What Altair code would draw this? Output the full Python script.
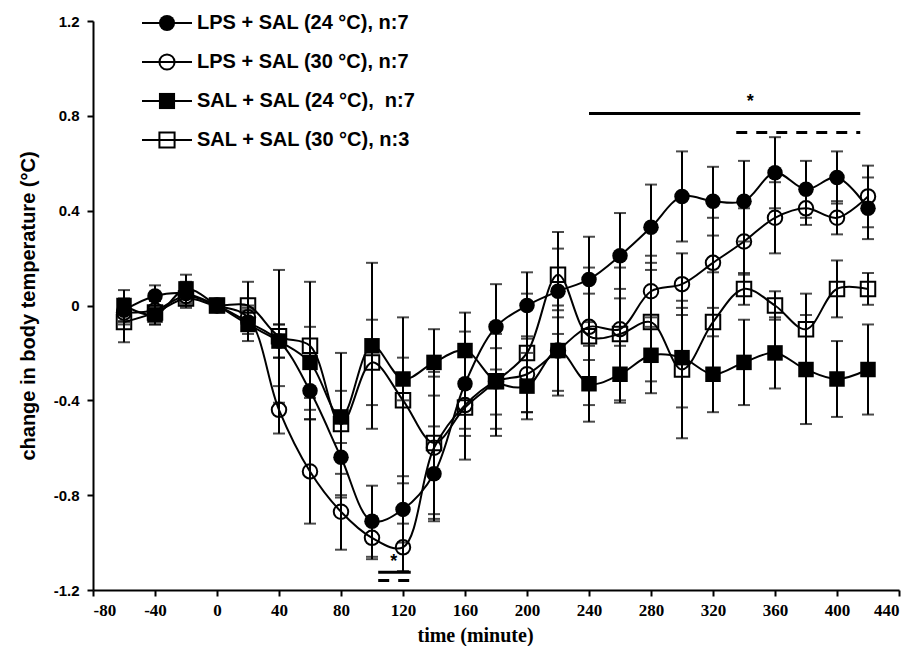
import altair as alt
import pandas as pd

times = [-60, -40, -20, 0, 20, 40, 60, 80, 100, 120, 140, 160, 180, 200,
         220, 240, 260, 280, 300, 320, 340, 360, 380, 400, 420]

names = ["LPS + SAL (24 °C), n:7", "LPS + SAL (30 °C), n:7",
         "SAL + SAL (24 °C),\u00a0 n:7", "SAL + SAL (30 °C), n:3"]

lps24 = [-0.02, 0.04, 0.05, 0.0, -0.07, -0.15, -0.36, -0.64, -0.91, -0.86, -0.71, -0.33, -0.09,
         0.00, 0.06, 0.11, 0.21, 0.33, 0.46, 0.44, 0.44, 0.56, 0.49, 0.54, 0.41]
lps24_se = [0.05, 0.045, 0.05, 0.0, 0.05, 0.07, 0.12, 0.17, 0.15, 0.14, 0.20, 0.22, 0.18,
            0.14, 0.18, 0.18, 0.18, 0.18, 0.19, 0.145, 0.17, 0.15, 0.12, 0.11, 0.13]

lps30 = [-0.03, -0.02, 0.04, 0.0, -0.05, -0.44, -0.70, -0.87, -0.98, -1.02, -0.60, -0.42, -0.32,
         -0.29, -0.19, -0.09, -0.10, 0.06, 0.09, 0.18, 0.27, 0.37, 0.41, 0.37, 0.46]
lps30_se = [0.05, 0.04, 0.04, 0.0, 0.05, 0.10, 0.22, 0.16, 0.09, 0.10, 0.30, 0.10, 0.20,
            0.16, 0.17, 0.14, 0.17, 0.15, 0.13, 0.19, 0.14, 0.15, 0.07, 0.07, 0.13]

sal24 = [0.00, -0.04, 0.07, 0.0, -0.08, -0.15, -0.24, -0.47, -0.17, -0.31, -0.24, -0.19, -0.32,
         -0.34, -0.19, -0.33, -0.29, -0.21, -0.22, -0.29, -0.24, -0.20, -0.27, -0.31, -0.27]
sal24_se = [0.065, 0.04, 0.06, 0.0, 0.07, 0.07, 0.15, 0.11, 0.35, 0.09, 0.14, 0.16, 0.23,
            0.14, 0.19, 0.16, 0.12, 0.16, 0.21, 0.16, 0.18, 0.15, 0.23, 0.16, 0.19]

sal30 = [-0.07, -0.03, 0.03, 0.0, 0.00, -0.13, -0.17, -0.50, -0.24, -0.40, -0.58, -0.43, -0.32,
         -0.20, 0.13, -0.13, -0.12, -0.07, -0.27, -0.07, 0.07, 0.00, -0.10, 0.07, 0.07]
sal30_se = [0.085, 0.05, 0.04, 0.0, 0.10, 0.28, 0.27, 0.30, 0.18, 0.35, 0.30, 0.22, 0.14,
            0.25, 0.18, 0.29, 0.28, 0.25, 0.29, 0.21, 0.067, 0.06, 0.15, 0.12, 0.067]

# significance annotations
sig_solid_start = [240, 104]
sig_solid_end = [415, 125]
sig_solid_level = [0.81, -1.125]
sig_dash_start = [335, 104]
sig_dash_end = [415, 125]
sig_dash_level = [0.73, -1.16]
star_time = [344, 114]
star_level = [0.86, -1.08]

rows = []
for name, m, s in zip(names, [lps24, lps30, sal24, sal30],
                      [lps24_se, lps30_se, sal24_se, sal30_se]):
    for t, v, e in zip(times, m, s):
        rows.append(dict(series=name, time=t, mean=v, lo=v - e, hi=v + e))
df = pd.DataFrame(rows)

W, H = 806, 569
OX, OY = 93, 21  # plot origin on page (for legend layout)

xs = alt.Scale(domain=[-80, 440], nice=False, zero=False)
ys = alt.Scale(domain=[-1.2, 1.2], nice=False, zero=False)

x_axis = alt.Axis(values=list(range(-80, 441, 40)), labelExpr="'' + datum.value",
                  title="time (minute)", grid=False, labelFont="Liberation Sans Narrow",
                  labelFontSize=17, labelFontWeight="bold", labelPadding=6,
                  titleFont="Liberation Sans Narrow", titleFontSize=20, titleFontWeight="bold",
                  titlePadding=7, titleX=475 - OX, titleAlign="center")
y_axis = alt.Axis(values=[-1.2, -0.8, -0.4, 0, 0.4, 0.8, 1.2],
                  labelExpr="datum.value == 0 ? '0' : '' + datum.value",
                  title="change in body temperature (°C)", grid=False,
                  labelFont="Liberation Sans", labelFontSize=15, labelFontWeight="bold",
                  labelPadding=8, titleFont="Liberation Sans", titleFontSize=20,
                  titleFontWeight="bold", titlePadding=15)

X = alt.X("time:Q", scale=xs, axis=x_axis)
Y = alt.Y("mean:Q", scale=ys, axis=y_axis)

base = alt.Chart(df)

lines = base.mark_line(interpolate="catmull-rom", color="black", strokeWidth=2).encode(
    x=X, y=Y, detail="series:N")
err = base.mark_rule(color="black", strokeWidth=2).encode(
    x="time:Q", y="lo:Q", y2="hi:Q")
cap_lo = base.mark_tick(orient="horizontal", color="black", size=12, thickness=2).encode(
    x="time:Q", y="lo:Q")
cap_hi = base.mark_tick(orient="horizontal", color="black", size=12, thickness=2).encode(
    x="time:Q", y="hi:Q")

styles = [("circle", True), ("circle", False), ("square", True), ("square", False)]


def marker(shape, filled, size_f=240, size_o=210):
    if filled:
        return dict(shape=shape, filled=True, color="black", size=size_f, opacity=1)
    return dict(shape=shape, filled=False, color="black", size=size_o, strokeWidth=2, opacity=1)


points = []
for name, (shape, filled) in zip(names, styles):
    points.append(base.transform_filter(alt.datum.series == name).mark_point(
        **marker(shape, filled)).encode(x="time:Q", y="mean:Q"))

solid_df = pd.DataFrame(dict(a=sig_solid_start, b=sig_solid_end, lvl=sig_solid_level))
dash_df = pd.DataFrame(dict(a=sig_dash_start, b=sig_dash_end, lvl=sig_dash_level))
star_df = pd.DataFrame(dict(t=star_time, lvl=star_level, s=["*", "*"]))

sig_solid = alt.Chart(solid_df).mark_rule(color="black", strokeWidth=3).encode(
    x="a:Q", x2="b:Q", y="lvl:Q")
sig_dash = alt.Chart(dash_df).mark_rule(color="black", strokeWidth=3, strokeDash=[11, 9]).encode(
    x="a:Q", x2="b:Q", y="lvl:Q")
stars = alt.Chart(star_df).mark_text(font="Liberation Sans", fontSize=18, fontWeight="bold",
                                     baseline="middle").encode(x="t:Q", y="lvl:Q", text="s:N")

legend_rows = [23, 62, 101, 140]
legend_layers = []
for name, (shape, filled), ry in zip(names, styles, legend_rows):
    ldf = pd.DataFrame(dict(label=[name]))
    yv = ry - OY
    legend_layers.append(alt.Chart(ldf).mark_rule(color="black", strokeWidth=2).encode(
        x=alt.value(142 - OX), x2=alt.value(192 - OX), y=alt.value(yv)))
    legend_layers.append(alt.Chart(ldf).mark_point(**marker(shape, filled, 260, 230)).encode(
        x=alt.value(167 - OX), y=alt.value(yv)))
    legend_layers.append(alt.Chart(ldf).mark_text(
        align="left", baseline="middle", font="Liberation Sans", fontSize=20,
        fontWeight="bold", color="black").encode(
        x=alt.value(197 - OX), y=alt.value(yv), text="label:N"))

chart = alt.layer(lines, err, cap_lo, cap_hi, *points, sig_solid, sig_dash, stars,
                  *legend_layers).properties(
    width=W, height=H,
    autosize=alt.AutoSizeParams(type="none"),
    padding={"left": OX - 8, "top": OY - 8, "right": 6, "bottom": 56},
).configure_view(stroke=None).configure_axis(
    domainColor="black", domainWidth=2, tickColor="black", tickWidth=2, tickSize=6,
    labelColor="black", titleColor="black")

chart.save("out.html", embed_options={"renderer": "svg", "actions": False})
